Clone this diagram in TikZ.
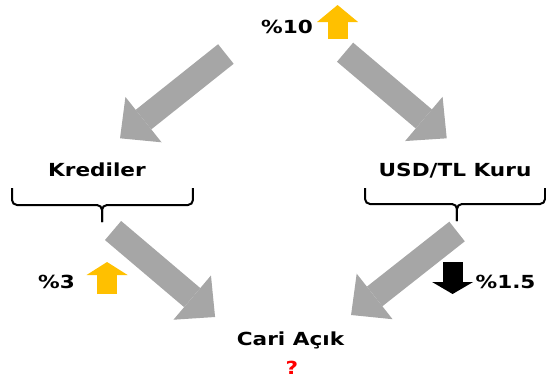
\documentclass[tikz,border=0pt]{standalone}
\usepackage{fontspec}
\setmainfont{DejaVu Sans}
\usetikzlibrary{arrows.meta}
\definecolor{okgri}{HTML}{A6A6A6}
\definecolor{sari}{HTML}{FFC000}
\tikzset{
  etiket/.style={font=\bfseries\fontsize{18}{20}\selectfont, inner sep=0pt, anchor=base, transform shape},
  buyukok/.style={draw=okgri, line width=25pt, -{Triangle[length=30pt, width=58pt, line width=0pt]}},
  kucukok/.style={line width=20pt, -{Triangle[length=#1, width=41pt, line width=0pt]}},
  parantez/.style={line width=2pt, rounded corners=5pt}
}
\begin{document}
\begin{tikzpicture}[x=1pt, y=-1pt, xscale=1.2]
  \useasboundingbox (0,0) rectangle (455,378);
  \pgfmathsetmacro{\ust}{188}
  \pgfmathsetmacro{\orta}{205}
  \pgfmathsetmacro{\alt}{222}

  % Labels.
  \node[etiket] (yuzde10) at (239.2,33) {\%10};
  \node[etiket] (krediler) at (80.8,176) {Krediler};
  \node[etiket] (kur) at (379.2,176) {USD/TL Kuru};
  \node[etiket] (yuzde3) at (47.1,288) {\%3};
  \node[etiket] (yuzde15) at (421.3,288) {\%1.5};
  \node[etiket] (cari) at (242.1,345) {Cari Açık};
  \node[etiket, text=red] (soru) at (243.3,374.5) {?};

  % Braces
  \draw[parantez] (10,\ust) -- (10,\orta) -- (85,\orta) -- (85,\alt);
  \draw[parantez] (160.8,\ust) -- (160.8,\orta) -- (85,\orta) -- (85,\alt);
  \draw[parantez] (304.2,\ust) -- (304.2,\orta-1) -- (380.8,\orta-1) -- (380.8,\alt-1);
  \draw[parantez] (454.2,\ust) -- (454.2,\orta-1) -- (380.8,\orta-1) -- (380.8,\alt-1);

  % Gray arrows
  \coordinate (a1) at (188.2,54);   \coordinate (b1) at (100,138.3);
  \coordinate (a2) at (287.5,52.2); \coordinate (b2) at (372.2,138.3);
  \coordinate (a3) at (94.2,230.5); \coordinate (b3) at (179.2,317);
  \coordinate (a4) at (380.8,231.5); \coordinate (b4) at (292.5,315);
  \foreach \i in {1,...,4}
  \draw[buyukok] (a\i) -- (b\i);

  % Up and down arrows
  \coordinate (s1) at (281.25,39);  \coordinate (u1) at (281.25,5);
  \coordinate (s2) at (89.2,294);   \coordinate (u2) at (89.2,262);
  \coordinate (s3) at (377.1,262);  \coordinate (u3) at (377.1,294);
  \draw[kucukok=17pt, sari] (s1) -- (u1);
  \draw[kucukok=13pt, sari] (s2) -- (u2);
  \draw[kucukok=12pt, black] (s3) -- (u3);

\end{tikzpicture}
\end{document}
